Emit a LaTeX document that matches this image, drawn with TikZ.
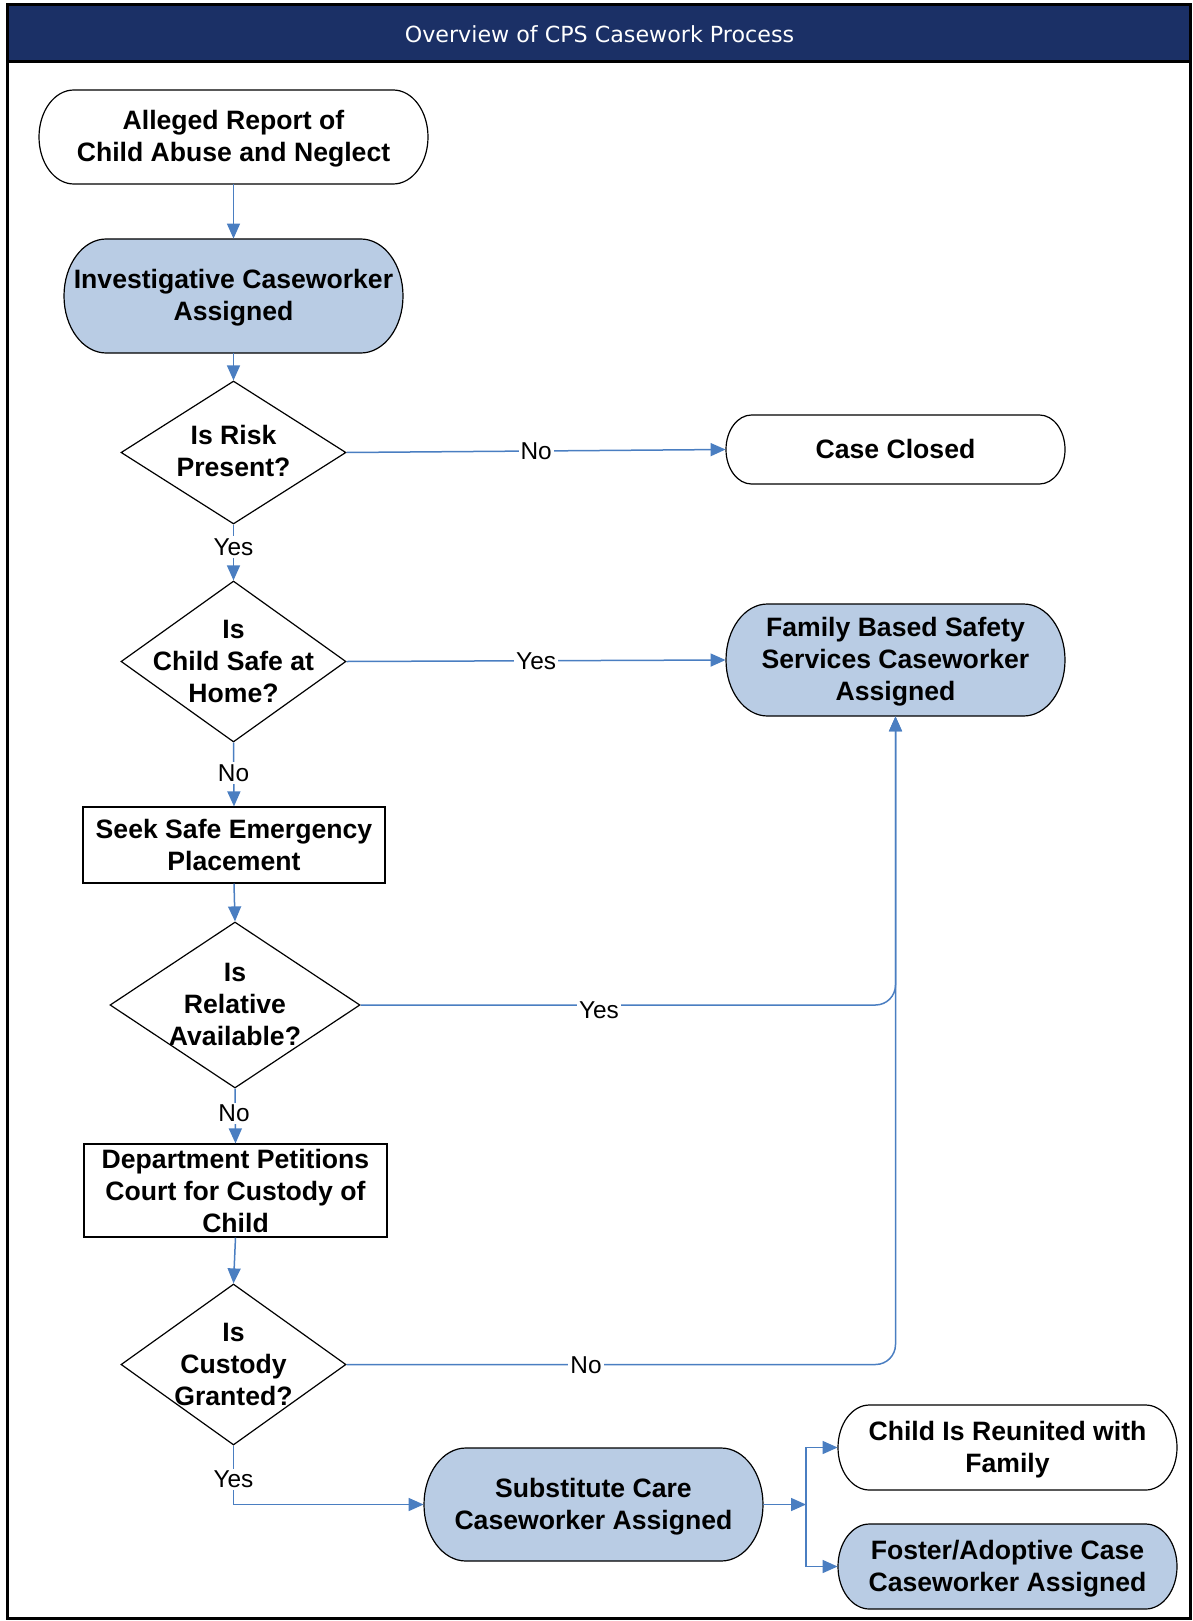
\documentclass[tikz,border=0pt]{standalone}
\usepackage{fontspec}
\setmainfont{Liberation Sans}
\newfontfamily\headfont{DejaVu Sans}
\usetikzlibrary{shapes.geometric,arrows.meta}
\definecolor{navy}{RGB}{27,48,102}
\definecolor{lineblue}{RGB}{74,126,193}
\definecolor{lightblue}{RGB}{185,204,228}
\newcommand\boxfont{\fontsize{13.3}{16}\selectfont\bfseries}
\newcommand\lblfont{\fontsize{12.2}{14}\selectfont}
\tikzset{
  conn/.style={draw=lineblue, line width=0.75pt, -{Triangle[length=7.5pt,width=6.5pt]}},
  lbl/.style={fill=white, inner sep=1pt, font=\lblfont},
  txt/.style={align=center, font=\boxfont, inner sep=0pt},
  dia/.style={diamond, draw=black, line width=0.6pt, inner sep=0pt},
  boxnode/.style={rectangle, draw=black, line width=0.6pt, align=center, font=\boxfont, inner sep=0pt},
  outline/.style={draw=black, line width=0.6pt},
}
% #1 name, #2 cx, #3 cy, #4 w, #5 h (px), #6 fill, #7 text y shift (px), #8 text
\newcommand{\stadium}[8]{%
  \pgfmathsetmacro{\sa}{0.37*#5}%
  \filldraw[outline, fill=#6]
    ({#2-#4/2+\sa},{#3-#5/2}) -- ({#2+#4/2-\sa},{#3-#5/2})
    arc[start angle=90, end angle=-90, x radius={\sa*0.5pt}, y radius={#5*0.25pt}]
    -- ({#2-#4/2+\sa},{#3+#5/2})
    arc[start angle=270, end angle=90, x radius={\sa*0.5pt}, y radius={#5*0.25pt}]
    -- cycle;
  \node[inner sep=0pt, minimum width=#4*0.5pt, minimum height=#5*0.5pt] (#1) at (#2,#3) {};
  \node[txt] (#1txt) at (#2,{#3+#7}) {#8};
}
\begin{document}
\begin{tikzpicture}[x=0.5pt, y=-0.5pt]
\useasboundingbox (0,0) rectangle (1193,1621);
% frame and header
\fill[navy] (7,5) rectangle (1190,62);
\draw[line width=1.5pt] (7,5) rectangle (1190,1618);
\draw[line width=1.5pt] (7,62) -- (1190,62);
\node[font=\headfont\fontsize{11.1}{13}\selectfont, text=white] (title) at (599.5,34) {Overview of CPS Casework Process};

% terminators
\stadium{alleged}{233.5}{137}{389}{94}{white}{2}{Alleged Report of\\Child Abuse and Neglect}
\stadium{invest}{233.5}{296}{339}{114}{lightblue}{2}{Investigative Caseworker\\Assigned}
\stadium{closed}{895.5}{449.5}{339}{69}{white}{-1}{Case Closed}
\stadium{family}{895.5}{660}{339}{112}{lightblue}{2}{Family Based Safety\\Services Caseworker\\Assigned}
\stadium{sub}{593.5}{1504.5}{339}{113}{lightblue}{2}{Substitute Care\\Caseworker Assigned}
\stadium{reun}{1007.5}{1447.5}{339}{85}{white}{2}{Child Is Reunited with\\Family}
\stadium{fost}{1007.5}{1566.5}{339}{85}{lightblue}{2}{Foster/Adoptive Case\\Caseworker Assigned}

% decisions
\node[dia, minimum width=112.5pt, minimum height=71.5pt] (risk) at (233.5,452.5) {};
\node[txt] (risktxt) at (233.5,451) {Is Risk\\Present?};
\node[dia, minimum width=112.5pt, minimum height=80.5pt] (safe) at (233.5,661.5) {};
\node[txt] (safetxt) at (233.5,661) {Is\\Child Safe at\\Home?};
\node[dia, minimum width=125pt, minimum height=83pt] (rel) at (235,1005) {};
\node[txt] (reltxt) at (235,1004) {Is\\Relative\\Available?};
\node[dia, minimum width=112.5pt, minimum height=80.5pt] (cust) at (233.5,1364.5) {};
\node[txt] (custtxt) at (233.5,1364) {Is\\Custody\\Granted?};

% processes
\node[boxnode, minimum width=151pt, minimum height=38pt] (seek) at (234,845) {Seek Safe Emergency\\Placement};
\node[boxnode, minimum width=151.5pt, minimum height=46.5pt] (dept) at (235.5,1190.5) {Department Petitions\\Court for Custody of\\Child};

% connectors
\draw[conn] (alleged.south) -- (invest.north);
\draw[conn] (invest.south) -- (risk.north);
\draw[conn] (risk.east) -- node[lbl] (lno1) {No} (closed.west);
\draw[conn] (risk.south) -- (safe.north);
\node[lbl] (lyes1) at (233.5,547) {Yes};
\draw[conn] (safe.east) -- node[lbl] (lyes2) {Yes} (family.west);
\draw[conn] (safe.south) -- (seek.north);
\node[lbl] (lno2) at (233.5,773) {No};
\draw[conn] (seek.south) -- (rel.north);
\draw[conn, rounded corners=10pt] (rel.east) -- (895.5,1005) -- (family.south);
\node[lbl] (lyes3) at (599,1010) {Yes};
\draw[conn] (rel.south) -- (dept.north);
\node[lbl] (lno3) at (234,1113) {No};
\draw[conn] (dept.south) -- (cust.north);
\draw[conn, rounded corners=10pt] (cust.east) -- (895.5,1364.5) -- (family.south);
\node[lbl] (lno4) at (586,1365) {No};
\draw[conn] (cust.south) |- (sub.west);
\node[lbl] (lyes4) at (233.5,1479) {Yes};
\coordinate (jn) at (806,1504.5);
\draw[conn] (sub.east) -- (jn);
\draw[conn] (jn) |- (reun.west);
\draw[conn] (jn) |- (fost.west);
\end{tikzpicture}
\end{document}
